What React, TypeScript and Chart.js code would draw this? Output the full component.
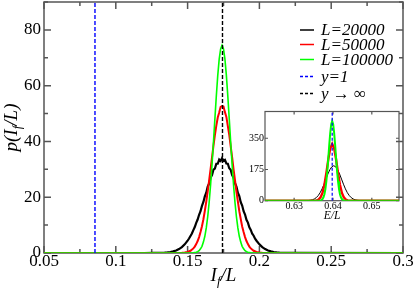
import React, { useEffect, useRef } from "react";
import { Chart, registerables } from "chart.js";

Chart.register(...registerables);

// ---------- main plot data ----------
const xTickValues = [0.05, 0.1, 0.15, 0.2, 0.25, 0.3];
const xTickLabels = ["0.05", "0.1", "0.15", "0.2", "0.25", "0.3"];
const xMinorTicks = [0.075, 0.125, 0.175, 0.225, 0.275];
const yTickValues = [0, 20, 40, 60, 80];
const yTickLabels = ["0", "20", "40", "60", "80"];
const yMinorTicks = [10, 30, 50, 70, 90];

const seriesLabels = ["L=20000", "L=50000", "L=100000", "y=1", "y \u2192 \u221E"];

const blackX = [0.05, 0.12, 0.126, 0.13, 0.134, 0.136, 0.138, 0.14, 0.142, 0.144, 0.146, 0.148, 0.15,
  0.151, 0.152, 0.153, 0.154, 0.155, 0.156, 0.157, 0.158, 0.159, 0.16, 0.161, 0.162, 0.163, 0.164, 0.165,
  0.166, 0.167, 0.168, 0.169, 0.17, 0.171, 0.172, 0.173, 0.174, 0.175, 0.176, 0.177, 0.178, 0.179, 0.18,
  0.181, 0.182, 0.183, 0.184, 0.185, 0.186, 0.187, 0.188, 0.189, 0.19, 0.191, 0.192, 0.193, 0.194, 0.195,
  0.196, 0.197, 0.198, 0.2, 0.202, 0.204, 0.206, 0.208, 0.21, 0.212, 0.214, 0.218, 0.222, 0.3];
const blackY = [0, 0, 0.03, 0.07, 0.12, 0.2, 0.35, 0.57, 0.9, 1.4, 2.1, 3.1, 4.4,
  5.2, 6.1, 7.0, 8.2, 9.3, 10.8, 12.0, 13.7, 15.0, 16.9, 18.3, 20.3, 21.6, 23.8, 24.9,
  27.0, 27.9, 29.9, 30.3, 32.0, 32.0, 33.5, 33.0, 34.0, 33.1, 33.4, 32.1, 32.0, 30.4, 29.8,
  27.9, 27.0, 25.0, 23.8, 21.6, 20.4, 18.2, 17.0, 15.0, 13.8, 11.9, 10.9, 9.2, 8.3, 6.9,
  6.2, 5.1, 4.4, 3.1, 2.1, 1.4, 0.9, 0.57, 0.35, 0.2, 0.12, 0.05, 0.02, 0];

const redX = [0.05, 0.142, 0.144, 0.146, 0.148, 0.15, 0.152, 0.154, 0.155, 0.156, 0.157, 0.158, 0.159,
  0.16, 0.161, 0.162, 0.163, 0.164, 0.165, 0.166, 0.167, 0.168, 0.169, 0.17, 0.171, 0.172, 0.173, 0.174,
  0.175, 0.176, 0.177, 0.178, 0.179, 0.18, 0.181, 0.182, 0.183, 0.184, 0.185, 0.186, 0.187, 0.188, 0.189,
  0.19, 0.191, 0.192, 0.193, 0.194, 0.196, 0.198, 0.2, 0.202, 0.204, 0.206, 0.3];
const redY = [0, 0, 0.02, 0.06, 0.15, 0.36, 0.8, 1.65, 2.3, 3.2, 4.3, 5.7, 7.5,
  9.6, 12.1, 15.1, 18.4, 22.1, 26.0, 30.1, 34.3, 38.4, 42.3, 45.7, 48.6, 50.4, 52.4, 52.7,
  52.5, 50.5, 48.8, 45.6, 42.4, 38.3, 34.4, 30.0, 26.1, 22.0, 18.5, 15.0, 12.2, 9.5, 7.5,
  5.7, 4.3, 3.2, 2.3, 1.65, 0.8, 0.36, 0.15, 0.06, 0.02, 0, 0];

const greenX = [0.05, 0.152, 0.154, 0.156, 0.157, 0.158, 0.159, 0.16, 0.161, 0.162, 0.163, 0.164, 0.165,
  0.166, 0.167, 0.168, 0.169, 0.17, 0.171, 0.172, 0.173, 0.174, 0.175, 0.176, 0.177, 0.178, 0.179, 0.18,
  0.181, 0.182, 0.183, 0.184, 0.185, 0.186, 0.187, 0.188, 0.189, 0.19, 0.191, 0.192, 0.194, 0.196, 0.3];
const greenY = [0, 0, 0.07, 0.26, 0.48, 0.85, 1.5, 2.4, 3.9, 6.0, 9.0, 13.0, 18.1,
  24.4, 31.7, 39.7, 48.1, 56.3, 63.7, 69.5, 73.2, 74.5, 73.2, 69.5, 63.7, 56.3, 48.1, 39.7,
  31.7, 24.4, 18.1, 13.0, 9.0, 6.0, 3.9, 2.4, 1.5, 0.85, 0.48, 0.26, 0.07, 0, 0];

const yOneX = 0.0855;      // y = 1 position
const yInfX = 0.1743;      // y -> infinity position
const vLineY = [0, 90];

// ---------- inset data ----------
const insetXTickValues = [0.63, 0.64, 0.65];
const insetXTickLabels = ["0.63", "0.64", "0.65"];
const insetYTickValues = [0, 175, 350];
const insetYTickLabels = ["0", "175", "350"];

const insetBlackX = [0.6225, 0.631, 0.6322, 0.6332, 0.6337, 0.6342, 0.6347, 0.6352, 0.6357, 0.6362, 0.6367,
  0.6372, 0.6377, 0.6382, 0.6387, 0.6392, 0.6397, 0.6402, 0.6407, 0.6412, 0.6417, 0.6422, 0.6427, 0.6432,
  0.6437, 0.6442, 0.6447, 0.6452, 0.6457, 0.6462, 0.6467, 0.6472, 0.6482, 0.649, 0.657];
const insetBlackY = [0, 0, 0.1, 0.5, 1.2, 2.6, 5.2, 9.7, 17.2, 28.7, 45,
  66.4, 92.5, 121, 150, 174, 190, 196, 190, 174, 150, 121, 92.5, 66.4,
  45, 28.7, 17.2, 9.7, 5.2, 2.6, 1.2, 0.5, 0.1, 0, 0];

const insetRedX = [0.6225, 0.6345, 0.6348, 0.6353, 0.6358, 0.6363, 0.6368, 0.6373, 0.6378, 0.6383, 0.6388,
  0.6393, 0.6398, 0.6403, 0.6408, 0.6413, 0.6418, 0.6423, 0.6428, 0.6433, 0.6438, 0.6443, 0.6448, 0.6455, 0.657];
const insetRedY = [0, 0, 0.1, 0.5, 2.0, 6.5, 18.3, 43.7, 89.3, 155.7, 231.5,
  294, 318, 294, 231.5, 155.7, 89.3, 43.7, 18.3, 6.5, 2.0, 0.5, 0.1, 0, 0];

const insetGreenX = [0.6225, 0.6358, 0.6363, 0.6368, 0.63705, 0.6373, 0.63755, 0.6378, 0.63805, 0.6383,
  0.63855, 0.6388, 0.63905, 0.6393, 0.63955, 0.6398, 0.64005, 0.6403, 0.64055, 0.6408, 0.64105, 0.6413,
  0.64155, 0.6418, 0.64205, 0.6423, 0.64255, 0.6428, 0.6433, 0.6438, 0.657];
const insetGreenY = [0, 0, 0.2, 1.6, 3.9, 9.0, 18.8, 36.5, 65.7, 109,
  168, 238.6, 314, 381, 429, 446, 429, 381, 314, 238.6, 168, 109,
  65.7, 36.5, 18.8, 9.0, 3.9, 1.6, 0.2, 0, 0];

const insetBlueX = 0.6398;
const insetVLineY = [0, 500];

// ---------- helpers ----------
const SERIF = '"Liberation Serif", "Times New Roman", serif';
const pts = (xs: number[], ys: number[]) => xs.map((x, i) => ({ x, y: ys[i] }));

type TickCfg = {
  xMajor: number[]; xMinor: number[]; yMajor: number[]; yMinor: number[];
  major: number; minor: number; color: string; width: number;
};

function framePlugin(cfg: TickCfg) {
  return {
    id: "frameTicks",
    beforeDatasetsDraw(chart: any) {
      const { ctx, chartArea: a, scales } = chart;
      const xs = scales.x, ys = scales.y;
      ctx.save();
      ctx.strokeStyle = cfg.color;
      ctx.lineWidth = cfg.width;
      ctx.beginPath();
      const xt = (vals: number[], len: number) => vals.forEach((v) => {
        const p = xs.getPixelForValue(v);
        ctx.moveTo(p, a.bottom); ctx.lineTo(p, a.bottom - len);
        ctx.moveTo(p, a.top); ctx.lineTo(p, a.top + len);
      });
      const yt = (vals: number[], len: number) => vals.forEach((v) => {
        const p = ys.getPixelForValue(v);
        ctx.moveTo(a.left, p); ctx.lineTo(a.left + len, p);
        ctx.moveTo(a.right, p); ctx.lineTo(a.right - len, p);
      });
      xt(cfg.xMajor, cfg.major); xt(cfg.xMinor, cfg.minor);
      yt(cfg.yMajor, cfg.major); yt(cfg.yMinor, cfg.minor);
      ctx.stroke();
      ctx.strokeRect(a.left, a.top, a.right - a.left, a.bottom - a.top);
      ctx.restore();
    },
  };
}

type Part = { t: string; sub?: boolean };
function partsWidth(ctx: CanvasRenderingContext2D, parts: Part[], size: number) {
  let w = 0;
  for (const p of parts) {
    ctx.font = `italic ${p.sub ? size * 0.68 : size}px ${SERIF}`;
    w += ctx.measureText(p.t).width;
  }
  return w;
}
function drawParts(ctx: CanvasRenderingContext2D, parts: Part[], x: number, y: number, size: number) {
  let cx = x;
  ctx.textBaseline = "alphabetic";
  ctx.textAlign = "left";
  for (const p of parts) {
    ctx.font = `italic ${p.sub ? size * 0.68 : size}px ${SERIF}`;
    ctx.fillText(p.t, cx, p.sub ? y + size * 0.22 : y);
    cx += ctx.measureText(p.t).width;
  }
}

const xTitleParts: Part[] = [{ t: "I" }, { t: "f", sub: true }, { t: "/L" }];
const yTitleParts: Part[] = [{ t: "p(I" }, { t: "f", sub: true }, { t: "/L)" }];
const insetTitleParts: Part[] = [{ t: "E/L" }];

const mainTitles = {
  id: "mainTitles",
  afterDraw(chart: any) {
    const { ctx, chartArea: a } = chart;
    const size = 19;
    ctx.save();
    ctx.fillStyle = "#000";
    const w = partsWidth(ctx, xTitleParts, size);
    drawParts(ctx, xTitleParts, (a.left + a.right) / 2 - w / 2, 281, size);
    const wy = partsWidth(ctx, yTitleParts, size);
    ctx.translate(17, (a.top + a.bottom) / 2);
    ctx.rotate(-Math.PI / 2);
    drawParts(ctx, yTitleParts, -wy / 2, 0, size);
    ctx.restore();
  },
};

const legendRowsY = [30, 44.5, 59.5, 76.5, 93.5];
const mainLegend = {
  id: "mainLegend",
  afterDraw(chart: any) {
    const { ctx } = chart;
    const ds = chart.data.datasets;
    ctx.save();
    ds.forEach((d: any, i: number) => {
      const y = legendRowsY[i];
      ctx.strokeStyle = d.borderColor;
      ctx.lineWidth = 1.5;
      ctx.setLineDash(d.borderDash ? [3, 2] : []);
      ctx.beginPath();
      ctx.moveTo(300, y); ctx.lineTo(314, y);
      ctx.stroke();
      ctx.setLineDash([]);
      ctx.fillStyle = "#000";
      ctx.textBaseline = "middle";
      ctx.textAlign = "left";
      let cx = 321;
      for (const ch of String(d.label)) {
        const ital = /[A-Za-z0-9=]/.test(ch);
        ctx.font = `${ital ? "italic " : ""}17px ${SERIF}`;
        ctx.fillText(ch, cx, y + 1);
        cx += ctx.measureText(ch).width;
      }
    });
    ctx.restore();
  },
};

const insetTitle = {
  id: "insetTitle",
  afterDraw(chart: any) {
    const { ctx, chartArea: a } = chart;
    const size = 11.5;
    ctx.save();
    ctx.fillStyle = "#000";
    const w = partsWidth(ctx, insetTitleParts, size);
    drawParts(ctx, insetTitleParts, (a.left + a.right) / 2 - w / 2, 119, size);
    ctx.restore();
  },
};

export default function App() {
  const mainRef = useRef<HTMLCanvasElement>(null);
  const insetRef = useRef<HTMLCanvasElement>(null);

  useEffect(() => {
    const tickFont = { family: SERIF, size: 17 };
    const noGrid = { display: false, drawTicks: false, tickLength: 0 };
    const main = new Chart(mainRef.current!, {
      type: "scatter",
      data: {
        datasets: [
          { label: seriesLabels[0], data: pts(blackX, blackY), borderColor: "#000000", borderWidth: 2.2, showLine: true, pointRadius: 0, order: 2 },
          { label: seriesLabels[1], data: pts(redX, redY), borderColor: "#ff0000", borderWidth: 2, showLine: true, pointRadius: 0, order: 1 },
          { label: seriesLabels[2], data: pts(greenX, greenY), borderColor: "#00ff00", borderWidth: 1.6, showLine: true, pointRadius: 0, order: 0 },
          { label: seriesLabels[3], data: pts([yOneX, yOneX], vLineY), borderColor: "#0000ff", borderDash: [4, 2], borderWidth: 1.4, showLine: true, pointRadius: 0, order: -1 },
          { label: seriesLabels[4], data: pts([yInfX, yInfX], vLineY), borderColor: "#000000", borderDash: [4, 2], borderWidth: 1.4, showLine: true, pointRadius: 0, order: -1 },
        ] as any,
      },
      options: {
        responsive: false,
        animation: false,
        layout: { padding: { left: 0, top: 2, right: 12, bottom: 0 } },
        plugins: { legend: { display: false }, tooltip: { enabled: false } },
        scales: {
          x: {
            type: "linear", min: 0.05, max: 0.3,
            grid: noGrid, border: { display: false },
            ticks: { font: tickFont, color: "#000", padding: -1.5, maxRotation: 0, autoSkip: false,
              callback: (_v: any, i: number) => xTickLabels[i] },
            afterBuildTicks: (s: any) => { s.ticks = xTickValues.map((v) => ({ value: v })); },
            afterFit: (s: any) => { s.height = 40; s.paddingLeft = 0; s.paddingRight = 0; },
          },
          y: {
            type: "linear", min: 0, max: 90,
            grid: noGrid, border: { display: false },
            ticks: { font: tickFont, color: "#000", padding: 3, autoSkip: false,
              callback: (_v: any, i: number) => yTickLabels[i] },
            afterBuildTicks: (s: any) => { s.ticks = yTickValues.map((v) => ({ value: v })); },
            afterFit: (s: any) => { s.width = 44; s.paddingTop = 0; s.paddingBottom = 0; },
          },
        },
      } as any,
      plugins: [
        framePlugin({ xMajor: xTickValues, xMinor: xMinorTicks, yMajor: yTickValues, yMinor: yMinorTicks, major: 7, minor: 4, color: "#555", width: 1.5 }),
        mainTitles,
        mainLegend,
      ],
    });

    const insetFont = { family: SERIF, size: 10 };
    const inset = new Chart(insetRef.current!, {
      type: "scatter",
      data: {
        datasets: [
          { label: "black", data: pts(insetBlackX, insetBlackY), borderColor: "#000000", borderWidth: 1, showLine: true, pointRadius: 0, order: 2 },
          { label: "red", data: pts(insetRedX, insetRedY), borderColor: "#ff0000", borderWidth: 2.4, showLine: true, pointRadius: 0, order: 1 },
          { label: "green", data: pts(insetGreenX, insetGreenY), borderColor: "#00ff00", borderWidth: 2, showLine: true, pointRadius: 0, order: 0 },
          { label: "blue", data: pts([insetBlueX, insetBlueX], insetVLineY), borderColor: "#0000ff", borderDash: [3, 2], borderWidth: 1.2, showLine: true, pointRadius: 0, order: -1 },
        ] as any,
      },
      options: {
        responsive: false,
        animation: false,
        layout: { padding: { left: 0, top: 11.5, right: 3, bottom: 0 } },
        plugins: { legend: { display: false }, tooltip: { enabled: false } },
        scales: {
          x: {
            type: "linear", min: 0.6225, max: 0.657,
            grid: noGrid, border: { display: false },
            ticks: { font: insetFont, color: "#000", padding: -0.5, maxRotation: 0, autoSkip: false,
              callback: (_v: any, i: number) => insetXTickLabels[i] },
            afterBuildTicks: (s: any) => { s.ticks = insetXTickValues.map((v) => ({ value: v })); },
            afterFit: (s: any) => { s.height = 24.3; s.paddingLeft = 0; s.paddingRight = 0; },
          },
          y: {
            type: "linear", min: 0, max: 500,
            grid: noGrid, border: { display: false },
            ticks: { font: insetFont, color: "#000", padding: 1, autoSkip: false,
              callback: (_v: any, i: number) => insetYTickLabels[i] },
            afterBuildTicks: (s: any) => { s.ticks = insetYTickValues.map((v) => ({ value: v })); },
            afterFit: (s: any) => { s.width = 35; s.paddingTop = 0; s.paddingBottom = 0; },
          },
        },
      } as any,
      plugins: [
        framePlugin({ xMajor: insetXTickValues, xMinor: [], yMajor: insetYTickValues, yMinor: [], major: 3, minor: 2, color: "#555", width: 1.2 }),
        insetTitle,
      ],
    });

    return () => { main.destroy(); inset.destroy(); };
  }, []);

  return (
    <div style={{ position: "fixed", left: 0, top: 0, width: 415, height: 293, background: "#fff" }}>
      <canvas ref={mainRef} width={415} height={293} style={{ position: "absolute", left: 0, top: 0, width: 415, height: 293 }} />
      <canvas ref={insetRef} width={172} height={125} style={{ position: "absolute", left: 230, top: 100, width: 172, height: 125 }} />
    </div>
  );
}
